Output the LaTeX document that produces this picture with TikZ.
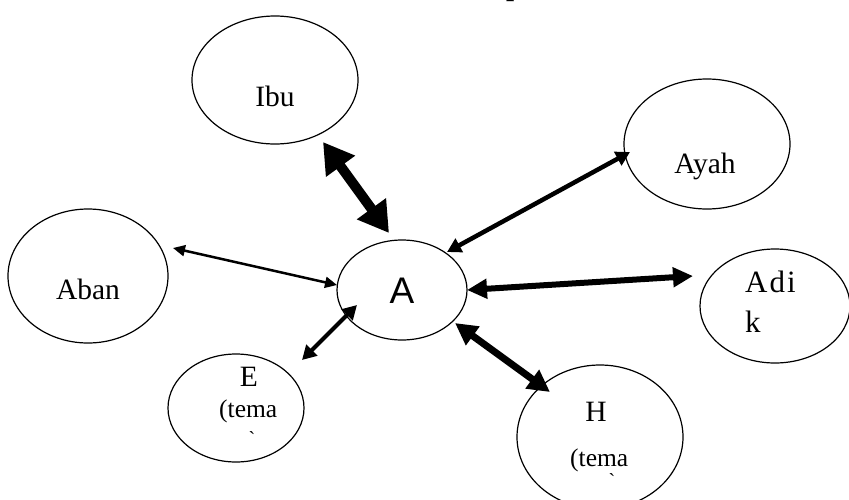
\documentclass[tikz,border=0pt]{standalone}
\usepackage{fontspec}
\setmainfont{Liberation Serif}
\newfontfamily\arialfont{Liberation Sans}
\usetikzlibrary{shapes.geometric,arrows.meta}
\tikzset{
  circ/.style={draw, ellipse, line width=1.2pt, inner sep=0pt},
  lbl/.style={inner sep=0pt, anchor=base, font=\fontsize{29.5}{34}\selectfont},
  sml/.style={inner sep=0pt, anchor=base west, font=\fontsize{25.5}{30}\selectfont},
  grv/.style={inner sep=0pt, font=\fontsize{20}{24}\selectfont},
  conn/.style={line width=#1},
}
\begin{document}
\begin{tikzpicture}[x=1pt,y=-1pt]
\useasboundingbox (0,0) rectangle (849,499);
\fill[white] (0,0) rectangle (849,499);
% partially visible title
\node[inner sep=0pt, anchor=base west, font=\fontsize{29}{34}\selectfont\bfseries] (title) at (506,-4.5) {p};
% ellipses
\node[circ, minimum width=166pt, minimum height=128pt] (ibu) at (275,80) {};
\node[circ, minimum width=166pt, minimum height=130pt] (ayah) at (707,144) {};
\node[circ, minimum width=160pt, minimum height=134pt] (aban) at (88,276) {};
\node[circ, minimum width=130pt, minimum height=100pt] (a) at (402,290) {};
\node[circ, minimum width=150pt, minimum height=114pt] (adik) at (775,306) {};
\node[circ, minimum width=136pt, minimum height=108pt] (e) at (236,408) {};
\node[circ, minimum width=166pt, minimum height=144pt] (h) at (600,437) {};
% texts
\node[lbl] (tibu) at (275,106) {Ibu};
\node[lbl] (tayah) at (705,173) {Ayah};
\node[lbl] (taban) at (88,299) {Aban};
\node[inner sep=0pt, anchor=base, font=\arialfont\fontsize{37}{40}\selectfont] (ta) at (402,303) {A};
\node[lbl, anchor=base west, font=\fontsize{31}{34}\selectfont] (tadi) at (745,292) {A\hspace{2pt}d\hspace{2pt}i};
\node[lbl, anchor=base west, font=\fontsize{31}{34}\selectfont] (tk) at (745,332) {k};
\node[lbl] (te) at (249,386) {E};
\node[sml] (tet) at (219,417) {(tema};
\node[grv] (teg) at (252,439) {\textasciigrave};
\node[lbl] (th) at (596,421) {H};
\node[sml] (tht) at (570,466) {(tema};
\node[grv] (thg) at (612,481) {\textasciigrave};
% connector end points
\coordinate (ibuS) at (323,142);
\coordinate (aN) at (389,233);
\coordinate (aNE) at (447,252);
\coordinate (ayahW) at (630,152);
\coordinate (abanE) at (173,248);
\coordinate (aW) at (337,285);
\coordinate (aE) at (467,290);
\coordinate (adikW) at (693,276);
\coordinate (eNE) at (302,360);
\coordinate (aSW) at (357,305);
\coordinate (aSE) at (455,323);
\coordinate (hNW) at (550,392);
% connectors
\draw[conn=10pt, {Triangle[length=30pt,width=34pt]}-{Triangle[length=30pt,width=34pt]}] (ibuS) -- (aN);
\draw[conn=4.5pt, {Triangle[length=14pt,width=15pt]}-{Triangle[length=14pt,width=15pt]}] (aNE) -- (ayahW);
\draw[conn=2.5pt, {Triangle[length=12pt,width=11pt]}-{Triangle[length=12pt,width=11pt]}] (abanE) -- (aW);
\draw[conn=6pt, {Triangle[length=20pt,width=19pt]}-{Triangle[length=20pt,width=19pt]}] (aE) -- (adikW);
\draw[conn=4pt, {Triangle[length=14pt,width=15pt]}-{Triangle[length=14pt,width=15pt]}] (eNE) -- (aSW);
\draw[conn=7pt, {Triangle[length=22pt,width=22pt]}-{Triangle[length=22pt,width=22pt]}] (aSE) -- (hNW);
\end{tikzpicture}
\end{document}
